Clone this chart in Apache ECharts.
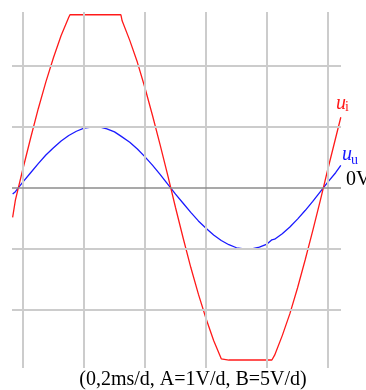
<!DOCTYPE html>
<html>
<head>
<meta charset="utf-8">
<script src="https://cdn.jsdelivr.net/npm/echarts@6/dist/echarts.min.js"></script>
<style>
html,body{margin:0;padding:0;background:#fff;}
#c{width:366px;height:390px;}
</style>
</head>
<body>
<div id="c"></div>
<script>
// time in ms (0.2 ms per division)
var timeMs = [-0.034,-0.025,0,0.025,0.05,0.075,0.1,0.125,0.15,0.154,0.175,0.2,0.225,0.25,0.275,0.3,0.321,0.325,0.35,0.375,0.4,0.425,0.45,0.475,0.5,0.525,0.55,0.575,0.6,0.625,0.65,0.656,0.675,0.7,0.725,0.75,0.775,0.8,0.816,0.825,0.85,0.875,0.9,0.925,0.95,0.975,1.0,1.025,1.042];
// u_u in volts (A = 1 V/div)
var uuValues = [-0.10,-0.06,0.10,0.25,0.40,0.54,0.66,0.77,0.86,0.87,0.93,0.98,1.00,1.00,0.97,0.92,0.85,0.84,0.75,0.64,0.51,0.37,0.22,0.06,-0.10,-0.25,-0.40,-0.54,-0.66,-0.77,-0.86,-0.87,-0.93,-0.98,-1.00,-1.00,-0.97,-0.92,-0.85,-0.84,-0.75,-0.64,-0.51,-0.37,-0.22,-0.06,0.10,0.25,0.37];
// u_i in volts (B = 5 V/div)
var uiValues = [-2.4,-1.0,1.6,4.1,6.5,8.7,10.7,12.5,14.0,14.2,14.2,14.2,14.2,14.2,14.2,14.2,14.2,13.7,12.1,10.3,8.2,5.9,3.5,1.0,-1.6,-4.1,-6.5,-8.7,-10.7,-12.5,-14.0,-14.1,-14.1,-14.1,-14.1,-14.1,-14.1,-14.1,-14.1,-13.7,-12.1,-10.3,-8.2,-5.9,-3.5,-1.0,1.6,4.1,5.8];
// grid divisions
var timeTicks = [0,0.2,0.4,0.6,0.8,1.0];
var voltTicks = [-2,-1,1,2];
var zeroLine = [0];
var captionText = '(0,2ms/d, A=1V/d, B=5V/d)';

var chart = echarts.init(document.getElementById('c'), null, {renderer:'canvas'});
function pairs(xs, ys){ return xs.map(function(x,i){ return [x, ys[i]]; }); }

var gridMarks = [];
timeTicks.forEach(function(t){ gridMarks.push({xAxis:t}); });
voltTicks.forEach(function(v){ gridMarks.push({yAxis:v}); });

var serif = '"Liberation Serif","DejaVu Serif",serif';

chart.setOption({
  animation:false,
  grid:{left:12, top:12, width:329, height:356, containLabel:false},
  xAxis:{type:'value', min:-0.0361, max:1.0426, show:false, splitLine:{show:false}},
  yAxis:[
    {type:'value', min:-2.951, max:2.885, show:false, splitLine:{show:false}},
    {type:'value', min:-14.754, max:14.426, show:false, splitLine:{show:false}}
  ],
  series:[
    {type:'line', data:[], xAxisIndex:0, yAxisIndex:0, z:1, silent:true,
     markLine:{silent:true, symbol:['none','none'], label:{show:false}, animation:false,
       lineStyle:{color:'#cccccc', width:2, type:'solid'}, data:gridMarks}},
    {type:'line', data:[], xAxisIndex:0, yAxisIndex:0, z:1, silent:true,
     markLine:{silent:true, symbol:['none','none'], label:{show:false}, animation:false,
       lineStyle:{color:'#8c8c8c', width:1.5, type:'solid'}, data:zeroLine.map(function(v){return {yAxis:v};})}},
    {name:'uu', type:'line', data:pairs(timeMs, uuValues), xAxisIndex:0, yAxisIndex:0, z:3,
     showSymbol:false, symbol:'none', lineStyle:{color:'#1a1aff', width:1.3}},
    {name:'ui', type:'line', data:pairs(timeMs, uiValues), xAxisIndex:0, yAxisIndex:1, z:4,
     showSymbol:false, symbol:'none', lineStyle:{color:'#ff1a1a', width:1.3}}
  ],
  graphic:[
    {type:'text', x:336, y:104, z:10, style:{text:'u', font:'italic 20px '+serif, fill:'#ff1a1a', verticalAlign:'middle'}},
    {type:'text', x:345, y:107.5, z:10, style:{text:'i', font:'14px '+serif, fill:'#ff1a1a', verticalAlign:'middle'}},
    {type:'text', x:342, y:155, z:10, style:{text:'u', font:'italic 20px '+serif, fill:'#1a1aff', verticalAlign:'middle'}},
    {type:'text', x:351, y:160, z:10, style:{text:'u', font:'14px '+serif, fill:'#1a1aff', verticalAlign:'middle'}},
    {type:'text', x:346, y:180, z:10, style:{text:'0V', font:'20px '+serif, fill:'#000', verticalAlign:'middle'}},
    {type:'text', x:193, y:380, z:10, style:{text:captionText, font:'20px '+serif, fill:'#000', align:'center', verticalAlign:'middle'}}
  ]
});
</script>
</body>
</html>
